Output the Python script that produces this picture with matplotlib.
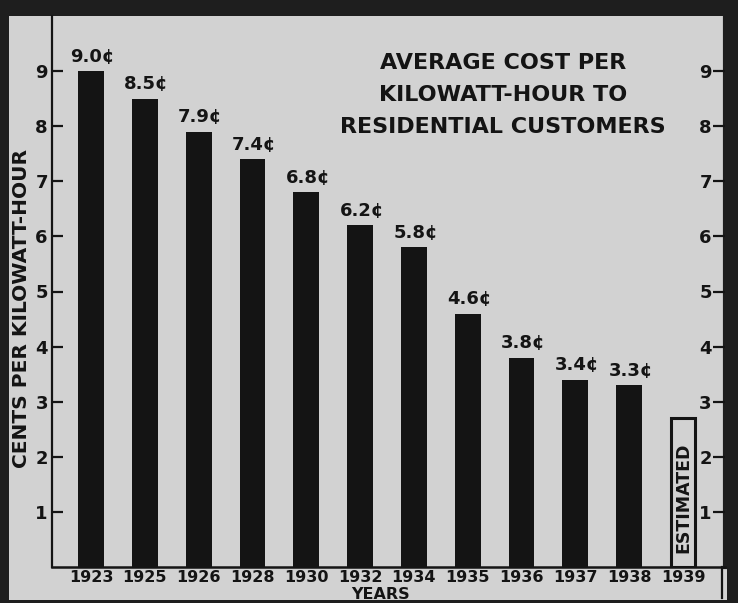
import matplotlib
matplotlib.use("Agg")
import matplotlib.pyplot as plt
from matplotlib.patches import Rectangle

years = ['1923', '1925', '1926', '1928', '1930', '1932', '1934',
         '1935', '1936', '1937', '1938', '1939']
cents = [9.0, 8.5, 7.9, 7.4, 6.8, 6.2, 5.8, 4.6, 3.8, 3.4, 3.3, 2.7]
estimated = [False] * 11 + [True]
yticks = [1, 2, 3, 4, 5, 6, 7, 8, 9]

title_lines = ['AVERAGE COST PER', 'KILOWATT-HOUR TO', 'RESIDENTIAL CUSTOMERS']

paper = '#d2d2d2'
ink = '#141414'

plt.rcParams['font.family'] = ['DejaVu Sans']
plt.rcParams['font.weight'] = 'bold'

W, H = 738, 603
fig = plt.figure(figsize=(W / 100, H / 100), dpi=100, facecolor='#1e1e1e')

# the paper inside the dark border of the scan
fig.patches.append(Rectangle((9 / W, 3 / H), (727 - 9) / W, (600 - 16) / H,
                             transform=fig.transFigure, facecolor=paper,
                             edgecolor='none', zorder=-5))

ax = fig.add_axes([52 / W, (H - 567) / H, (725 - 52) / W, (567 - 16) / H])
ax.set_facecolor('none')
ax.set_zorder(2)

x = list(range(len(years)))
for i, v in enumerate(cents):
    if estimated[i]:
        ax.bar(i, v, width=0.44, color=paper, edgecolor=ink, linewidth=2.2, zorder=3)
        ax.text(i, v / 2 - 0.1, 'ESTIMATED', rotation=90, ha='center', va='center',
                fontsize=12.5, color=ink, zorder=4)
    else:
        ax.bar(i, v, width=0.48, color=ink, zorder=3)
        ax.text(i + 0.03, v + 0.1, f'{v:.1f}¢', ha='center', va='bottom',
                fontsize=13, color=ink)

ax.set_xlim(-0.725, 11.78)
ax.set_ylim(0, 10)
ax.set_xticks(x)
ax.set_xticklabels(years, fontsize=11.5, color=ink)
ax.tick_params(axis='x', length=0, pad=2.5)
ax.set_yticks(yticks)
ax.set_yticklabels([str(t) for t in yticks], fontsize=13, color=ink)
ax.tick_params(axis='y', direction='in', length=8, width=1.6, pad=3, color=ink)

ax.spines['top'].set_visible(False)
ax.spines['left'].set_linewidth(1.6)
ax.spines['bottom'].set_linewidth(1.8)
ax.spines['left'].set_color(ink)
ax.spines['bottom'].set_color(ink)
ax.spines['right'].set_color('#1e1e1e')
ax.spines['right'].set_linewidth(3)

# right hand scale, labels sit inside the frame
ax2 = ax.twinx()
ax2.set_ylim(0, 10)
ax2.set_yticks(yticks)
ax2.set_yticklabels([str(t) for t in yticks], fontsize=13, color=ink)
ax2.tick_params(axis='y', direction='in', length=9, width=1.6, pad=-9.5, color=ink)
for lab in ax2.get_yticklabels():
    lab.set_ha('right')
for side in ['top', 'left', 'bottom', 'right']:
    ax2.spines[side].set_visible(False)
ax2.set_zorder(3)

# frame line closing the year row on the right
fig.add_artist(plt.Line2D([722 / W, 722 / W], [(H - 567) / H, (H - 598) / H],
                          color=ink, linewidth=1.6))

for k, line in enumerate(title_lines):
    fig.text(503 / W, 1 - (63 + 32 * k) / H, line, ha='center', va='center',
             fontsize=16, color=ink)

fig.text(22 / W, 1 - 308 / H, 'CENTS PER KILOWATT-HOUR', rotation=90,
         ha='center', va='center', fontsize=14.5, color=ink)
fig.text(381 / W, 1 - 594.5 / H, 'YEARS', ha='center', va='center',
         fontsize=11.5, color=ink)

fig.savefig('out.png', dpi=100, facecolor=fig.get_facecolor())
